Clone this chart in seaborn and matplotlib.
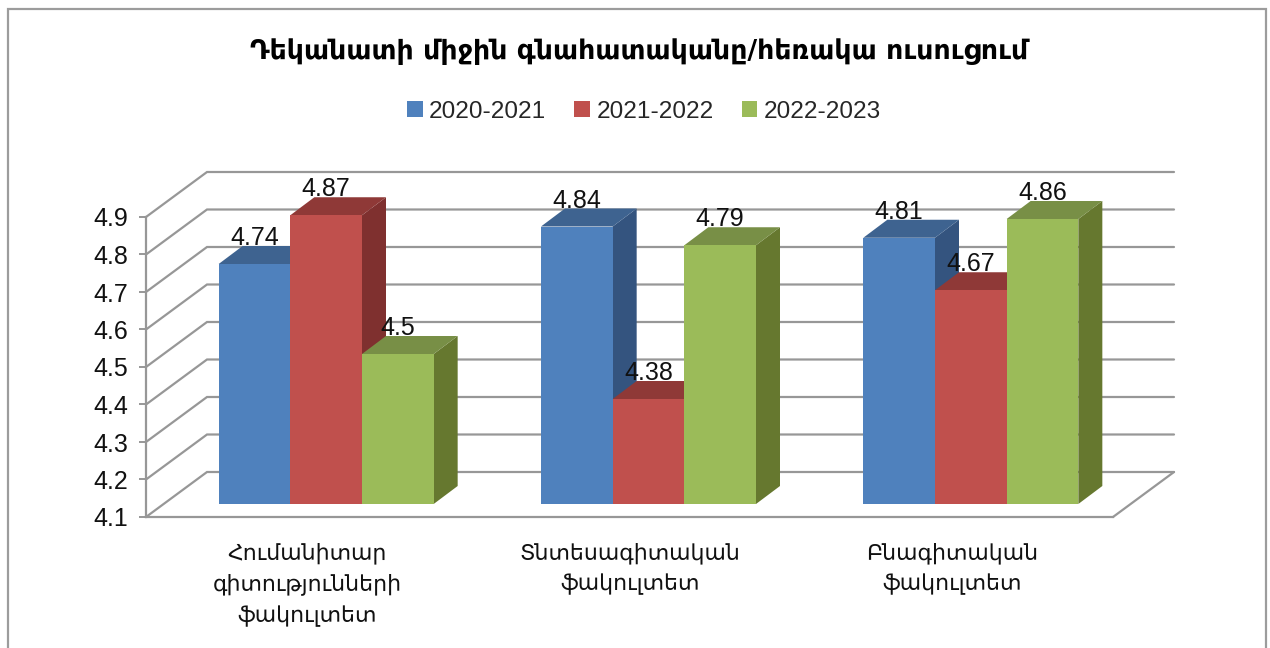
import matplotlib
matplotlib.use("Agg")
import matplotlib.pyplot as plt
import matplotlib.font_manager as fm
from matplotlib.patches import Polygon, Rectangle
import pandas as pd
import seaborn as sns

# ---- data ----
title = "Դեկանատի միջին գնահատականը/հեռակա ուսուցում"
faculties = ["Հումանիտար\nգիտությունների\nֆակուլտետ", "Տնտեսագիտական\nֆակուլտետ", "Բնագիտական\nֆակուլտետ"]
years = ["2020-2021", "2021-2022", "2022-2023"]
values_2020 = [4.74, 4.84, 4.81]
values_2021 = [4.87, 4.38, 4.67]
values_2022 = [4.50, 4.79, 4.86]
y_ticks = [4.1, 4.2, 4.3, 4.4, 4.5, 4.6, 4.7, 4.8, 4.9]

# ---- style ----
W, H = 1270, 648
front_col = ["#4F81BD", "#C0504D", "#9BBB59"]
side_col = ["#34547F", "#7F302F", "#66782F"]
top_col = ["#3E6390", "#8F3937", "#788F46"]
GRID = "#979797"
NUM = 18
sns.set_theme(style="white")
names = {f.name for f in fm.fontManager.ttflist}
narrow = "Liberation Sans Narrow" if "Liberation Sans Narrow" in names else "Liberation Sans"
plt.rcParams["font.family"] = ["DejaVu Sans"]

df = pd.DataFrame({
    "faculty": faculties * 3,
    "year": [y for y in years for _ in faculties],
    "value": values_2020 + values_2021 + values_2022,
})

fig = plt.figure(figsize=(W / 100, H / 100), dpi=100, facecolor="white")
rect = [146 / W, (H - 517) / H, 967 / W, 300 / H]

# front plane of the 3D box: holds axes, ticks and walls
ax_f = fig.add_axes(rect, facecolor="none", zorder=1)
ax_f.set_xlim(-0.5, 2.5)
ax_f.set_ylim(4.1, 4.9)
px_x = 967 / 3
px_y = 300 / 0.8
ddx, ddy = 61 / px_x, 45 / px_y
for v in y_ticks:
    ax_f.plot([-0.5, -0.5 + ddx, 2.5 + ddx], [v, v + ddy, v + ddy], color=GRID, lw=1.6,
              clip_on=False, zorder=1, solid_joinstyle="miter")
ax_f.plot([2.5, 2.5 + ddx], [4.1, 4.1 + ddy], color=GRID, lw=1.6, clip_on=False)
for s in ["top", "right"]:
    ax_f.spines[s].set_visible(False)
for s in ["left", "bottom"]:
    ax_f.spines[s].set_color(GRID)
    ax_f.spines[s].set_linewidth(1.6)
ax_f.set_yticks(y_ticks)
ax_f.set_yticklabels([f"{v:g}" for v in y_ticks], family=[narrow], fontsize=NUM, color="#111111")
ax_f.tick_params(axis="y", left=True, length=5, width=1.4, color=GRID, pad=8)
ax_f.set_xticks(range(3))
ax_f.set_xticklabels(faculties, fontsize=15.8, color="#111111", linespacing=1.59)
ax_f.tick_params(axis="x", length=0, pad=18)

# bars
ax = fig.add_axes(rect, facecolor="none", zorder=2)
sns.barplot(data=df, x="faculty", y="value", hue="year", palette=front_col, width=0.667,
            gap=0, saturation=1, linewidth=0, ax=ax, order=faculties, hue_order=years)
ax.set_xlim(-0.5 - 19 / px_x, 2.5 - 19 / px_x)
base = 4.1
ax.set_ylim(base - 13 / px_y, base - 13 / px_y + 0.8)
ax.axis("off")
dx, dy = 24 / px_x, 18 / px_y
for i, cont in enumerate(ax.containers):
    for bar, val in zip(cont, cont.datavalues):
        bar.set_y(base)
        bar.set_height(val - base)
        bar.set_clip_on(False)
        bar.set_zorder(3 + i * 2 + 0.5)
        x0, x1 = bar.get_x(), bar.get_x() + bar.get_width()
        ax.add_patch(Polygon([(x1, base), (x1 + dx, base + dy), (x1 + dx, val + dy), (x1, val)],
                             facecolor=side_col[i], lw=0, clip_on=False, zorder=3 + i * 2))
        ax.add_patch(Polygon([(x0, val), (x0 + dx, val + dy), (x1 + dx, val + dy), (x1, val)],
                             facecolor=top_col[i], lw=0, clip_on=False, zorder=3 + i * 2))
    ax.bar_label(cont, fmt="%g", padding=10, family=[narrow], fontsize=NUM, color="#111111",
                 zorder=20, annotation_clip=False)

sns.move_legend(ax, "center", bbox_to_anchor=(644 / W, 1 - 112 / H), bbox_transform=fig.transFigure,
                ncol=3, frameon=False, title=None, handlelength=0.62, handleheight=0.62,
                handletextpad=0.27, columnspacing=1.15, prop={"family": [narrow], "size": 17.6})

fig.suptitle(title, x=639 / W, y=1 - 52 / H, va="center", ha="center", fontsize=19.3,
             fontweight="bold", color="black")
fig.add_artist(Rectangle((8 / W, -0.02), (1266 - 8) / W, 1.02 - 9 / H, transform=fig.transFigure,
                         fill=False, edgecolor="#9C9C9C", lw=1.6))
fig.savefig("out.png", dpi=100)
